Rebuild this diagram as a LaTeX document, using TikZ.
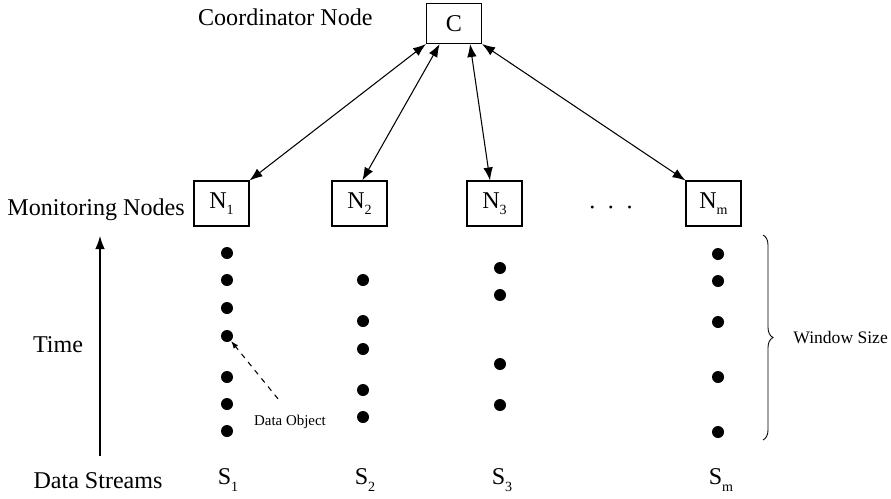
\documentclass[tikz,border=0pt]{standalone}
\usepackage{fontspec}
\setmainfont{Liberation Serif}
\usetikzlibrary{arrows.meta,decorations.pathreplacing}
\newcommand{\idx}[1]{\raisebox{-0.6ex}{\fontsize{8}{8}\selectfont #1}}
\begin{document}
\begin{tikzpicture}[x=0.02cm,y=-0.02cm,line width=0.6pt,
    every node/.style={font=\fontsize{13.7}{16}\selectfont}]
            \tikzstyle{boite}=[draw,minimum width=1.1cm,minimum height=0.9cm,inner sep=0pt]
            \tikzstyle{point}=[circle,fill,minimum size=0.24cm,inner sep=0pt]
            \tikzset{edge/.style = {{Latex[length=0.26cm,width=0.19cm]}-{Latex[length=0.26cm,width=0.19cm]}}}
            \useasboundingbox (0,0) rectangle (891,498);
            \node[boite,minimum height=0.8cm] (C) at (454,23.5) {C};
            \node[anchor=east] (coord) at (379,17) {Coordinator Node};
            \node[boite] (N1) at (221.5,203.5) {N\idx{1}};
            \node[boite] (N2) at (359.5,203.5) {N\idx{2}};
            \node[boite] (N3) at (494.5,203.5) {N\idx{3}};
            \node[boite] (Nm) at (713.5,203.5) {N\idx{m}};
            \node[anchor=east] (mon) at (191,210) {Monitoring Nodes};
            \node (etc) at (611,211) {·\hspace{6pt}·\hspace{6pt}·};
            \draw[edge] (C.south west) -- (N1.north east);
            \draw[edge] (C.235) -- (N2.83.7);
            \draw[edge] (C.308.7) -- (N3.101.3);
            \draw[edge] (C.south east) -- (Nm.north west);
            \node[point] (11) at (227,253) {};
            \node[point] (12) at (227,280) {};
            \node[point] (13) at (227,308) {};
            \node[point] (14) at (227,336) {};
            \node[point] (15) at (227,377) {};
            \node[point] (16) at (227,404) {};
            \node[point] (17) at (227,431) {};
            \node[point] (21) at (363,280) {};
            \node[point] (22) at (363,321) {};
            \node[point] (23) at (363,349) {};
            \node[point] (24) at (363,390) {};
            \node[point] (25) at (363,417) {};
            \node[point] (31) at (500,268) {};
            \node[point] (32) at (500,295) {};
            \node[point] (33) at (500,364) {};
            \node[point] (34) at (500,405) {};
            \node[point] (m1) at (718,254) {};
            \node[point] (m2) at (718,281) {};
            \node[point] (m3) at (718,322) {};
            \node[point] (m4) at (718,377) {};
            \node[point] (m5) at (718,432) {};
            \node[font=\fontsize{8.5}{10}\selectfont] (obj) at (290,422) {Data Object};
            \draw[dashed,-{Latex[length=0.15cm,width=0.11cm]}] ([shift={(-12,-10)}]obj.north) -- (14);
            \coordinate (t0) at (100,456);
            \coordinate (t1) at (100,236);
            \draw[-{Latex[length=0.26cm,width=0.19cm]}] (t0) -- (t1);
            \node (time) at (58,345) {Time};
            \coordinate (b1) at (763,235);
            \coordinate (b2) at (763,440);
            \draw[line width=0.5pt,decorate,decoration={brace,amplitude=0.2cm}] (b1) -- (b2);
            \node[anchor=west,font=\fontsize{10}{12}\selectfont] (win) at (787,338) {Window Size};
            \node (ds) at (98,481) {Data Streams};
            \node (s1) at (228,480) {S\idx{1}};
            \node (s2) at (365,480) {S\idx{2}};
            \node (s3) at (502,480) {S\idx{3}};
            \node (sm) at (721,480) {S\idx{m}};
        \end{tikzpicture}
\end{document}
